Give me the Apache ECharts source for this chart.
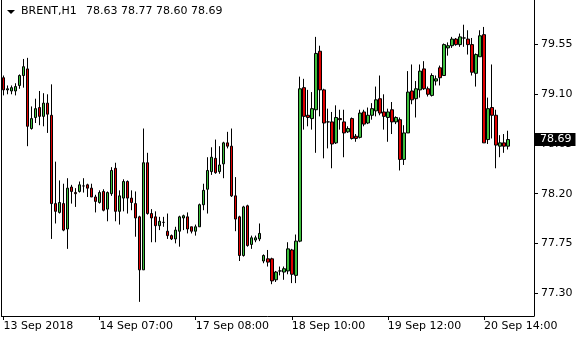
<!DOCTYPE html>
<html><head><meta charset="utf-8">
<script src="https://cdn.jsdelivr.net/npm/echarts@6/dist/echarts.min.js"></script>
<style>html,body{margin:0;padding:0;background:#fff}#c{width:580px;height:340px}</style>
</head><body><div id="c"></div>
<script>
const symbolName = 'BRENT,H1';
const tickLabels = ['13 Sep 2018', '14 Sep 07:00', '17 Sep 08:00', '18 Sep 10:00', '19 Sep 12:00', '20 Sep 14:00'];
const priceTicks = [77.30, 77.75, 78.20, 78.65, 79.10, 79.55];

const opens = [79.25,79.14,79.13,79.13,79.18,79.27,79.33,78.79,78.89,78.98,78.90,79.02,78.91,78.11,78.03,78.11,77.88,78.26,78.21,78.22,
78.27,78.28,78.25,78.17,78.12,78.22,78.06,78.20,78.43,78.04,78.16,78.31,78.16,78.11,77.99,77.51,78.48,78.02,77.99,77.91,
77.94,77.86,77.82,77.79,77.86,77.98,77.99,77.90,77.86,77.90,78.10,78.24,78.40,78.52,78.40,78.47,78.66,78.63,78.18,77.99,
77.64,78.09,77.74,77.78,77.79,77.59,77.61,77.61,77.42,77.50,77.49,77.50,77.69,77.46,77.77,79.16,78.91,78.88,78.96,79.49,
79.14,78.85,78.85,78.66,78.88,78.85,78.76,78.88,78.72,78.71,78.94,78.84,78.91,78.95,79.06,78.94,78.89,78.96,78.85,78.87,
78.51,78.75,79.13,79.06,79.14,79.33,79.15,79.09,79.22,79.34,79.27,79.52,79.54,79.60,79.55,79.61,79.60,79.55,79.29,79.44,
79.64,78.69,78.98,78.91,78.63,78.66,78.63];
const highs = [79.27,79.18,79.18,79.20,79.28,79.42,79.43,78.99,79.06,79.13,79.11,79.10,79.19,78.49,78.32,78.29,78.34,78.28,78.25,78.31,
78.34,78.29,78.29,78.19,78.23,78.24,78.22,78.44,78.48,78.23,78.33,78.32,78.23,78.22,78.00,78.79,78.57,78.06,78.04,77.99,
77.99,78.02,77.83,77.90,78.00,78.01,78.03,77.90,77.92,78.11,78.29,78.53,78.62,78.69,78.63,78.67,78.76,78.79,78.35,78.00,
78.09,78.10,77.82,77.82,77.93,77.65,77.69,77.62,77.50,77.54,77.54,77.76,77.70,77.83,79.26,79.24,79.14,79.12,79.62,79.54,
79.15,78.97,78.94,79.00,78.96,78.96,78.81,78.89,78.74,78.96,78.96,78.98,79.02,79.17,79.27,79.10,78.97,79.03,78.90,78.89,
78.82,79.31,79.37,79.22,79.37,79.40,79.17,79.29,79.27,79.36,79.56,79.57,79.62,79.61,79.65,79.73,79.68,79.61,79.47,79.68,
79.71,79.07,79.37,78.96,78.73,78.74,78.77];
const lows = [79.09,79.10,79.10,79.09,79.15,79.16,78.63,78.78,78.84,78.82,78.81,78.75,77.79,77.93,78.02,77.86,77.70,78.11,78.08,78.21,
78.21,78.17,78.17,78.03,78.11,78.04,77.95,78.18,77.95,77.92,78.04,78.02,78.05,77.81,77.22,77.51,78.01,77.76,77.76,77.87,
77.90,77.79,77.78,77.75,77.72,77.87,77.84,77.84,77.82,77.90,78.05,78.02,78.37,78.38,78.38,78.34,78.61,78.17,77.86,77.59,
77.63,77.72,77.70,77.76,77.77,77.57,77.54,77.38,77.40,77.46,77.42,77.47,77.39,77.39,77.76,78.78,78.81,78.78,78.57,78.90,
78.52,78.61,78.43,78.65,78.78,78.53,78.75,78.69,78.67,78.70,78.81,78.83,78.87,78.90,78.91,78.78,78.67,78.74,78.83,78.41,
78.46,78.75,79.01,78.89,79.07,79.14,79.08,79.08,79.18,79.18,79.27,79.45,79.52,79.54,79.53,79.53,79.46,79.27,79.17,79.44,
78.66,78.65,78.70,78.43,78.53,78.57,78.60];
const closes = [79.14,79.15,79.16,79.17,79.27,79.35,78.81,78.88,78.97,78.90,79.02,78.92,78.11,78.04,78.12,77.87,78.25,78.22,78.20,78.28,
78.27,78.25,78.17,78.13,78.21,78.05,78.21,78.41,78.04,78.18,78.31,78.16,78.12,77.98,77.51,78.48,78.02,77.98,77.91,77.95,
77.94,77.82,77.79,77.87,77.99,78.00,77.88,77.86,77.90,78.10,78.23,78.41,78.53,78.39,78.46,78.66,78.63,78.18,77.97,77.64,
78.08,77.73,77.80,77.80,77.84,77.64,77.58,77.41,77.49,77.50,77.52,77.70,77.47,77.77,79.15,78.90,78.89,78.97,79.47,79.14,
78.84,78.85,78.65,78.89,78.87,78.75,78.79,78.70,78.70,78.93,78.83,78.91,78.97,79.05,78.93,78.90,78.94,78.85,78.89,78.51,
78.75,79.12,79.05,79.15,79.31,79.15,79.10,79.27,79.24,79.25,79.55,79.54,79.60,79.55,79.62,79.61,79.55,79.30,79.46,79.63,
78.66,78.97,78.91,78.64,78.66,78.63,78.69];

const SLOTS = 133;
const categories = Array.from({length: SLOTS}, (_, i) => String(i));
const candles = opens.map((o, i) => [o, closes[i], lows[i], highs[i]]);
const last = opens.length - 1;
const FONT = 'DejaVu Sans';
const yMin = 77.092, yMax = 79.954;

const chart = echarts.init(document.getElementById('c'), null, {renderer: 'canvas'});
chart.setOption({
  animation: false,
  backgroundColor: '#ffffff',
  grid: {left: 1.5, right: 46, top: 0, bottom: 24, containLabel: false},
  graphic: [
    {type: 'polygon', shape: {points: [[7, 10], [15, 10], [11, 14]]}, style: {fill: '#000'}},
    {type: 'text', left: 21, top: 6, style: {text: symbolName, font: '11px "DejaVu Sans"', fill: '#000'}},
    {type: 'text', left: 86, top: 6, style: {text: [opens[last], highs[last], lows[last], closes[last]].map(v => v.toFixed(2)).join(' '), font: '11px "DejaVu Sans"', fill: '#000'}}
  ],
  xAxis: {
    type: 'category', data: categories, boundaryGap: true,
    axisLine: {show: true, lineStyle: {color: '#000', width: 1}},
    axisTick: {show: true, alignWithLabel: true, interval: 23, length: 4, lineStyle: {color: '#000'}},
    axisLabel: {interval: 23, align: 'left', margin: 5, color: '#000', fontFamily: FONT, fontSize: 11,
      formatter: (v, i) => tickLabels[i / 24] || ''},
    splitLine: {show: false}
  },
  yAxis: [{
    type: 'value', position: 'right', min: yMin, max: yMax, scale: true,
    axisLine: {show: true, lineStyle: {color: '#000', width: 1}},
    axisTick: {show: true, length: 4, customValues: priceTicks, lineStyle: {color: '#000'}},
    axisLabel: {customValues: priceTicks, margin: 7, color: '#000', fontFamily: FONT, fontSize: 11,
      formatter: v => v.toFixed(2)},
    splitLine: {show: false}
  }, {
    type: 'value', position: 'left', min: yMin, max: yMax, scale: true,
    axisLine: {show: true, lineStyle: {color: '#000', width: 1}},
    axisTick: {show: false}, axisLabel: {show: false}, splitLine: {show: false}
  }],
  series: [{
    type: 'candlestick', data: candles, barWidth: 3, yAxisIndex: 0,
    itemStyle: {color: '#3cbf3c', color0: '#e00000', borderColor: '#000', borderColor0: '#000', borderColorDoji: '#000', borderWidth: 1},
    markLine: {
      silent: true, symbol: 'none', animation: false,
      lineStyle: {color: 'rgba(0,0,0,0)', width: 0},
      label: {show: true, position: 'end', distance: 0, formatter: closes[last].toFixed(2),
        backgroundColor: '#000', color: '#fff', fontFamily: FONT, fontSize: 11, padding: [1, 4, 1, 6]},
      data: [{yAxis: closes[last]}]
    }
  }]
});
</script></body></html>
